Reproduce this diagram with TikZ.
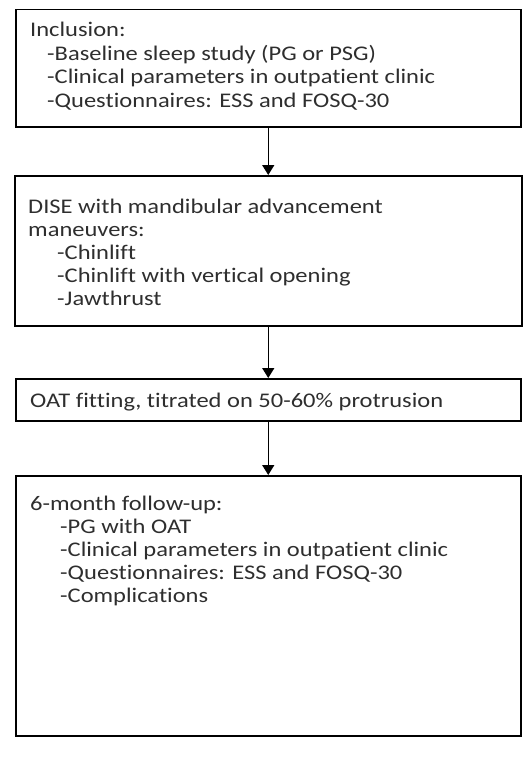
\documentclass[tikz,border=0pt]{standalone}
\usepackage{fontspec}
\usepackage{graphicx}
\setmainfont{Carlito}[Ligatures=NoCommon]
\usetikzlibrary{arrows.meta}
\newcommand\sqz[1]{\scalebox{1}[0.85]{#1}}
\begin{document}
\begin{tikzpicture}[x=1pt,y=-1pt,
  box/.style={draw=black, line width=1.5pt, inner sep=0pt, anchor=north west},
  txt/.style={anchor=base west, inner sep=0pt, font=\fontsize{24.5}{25}\selectfont, text=black!82},
  conn/.style={line width=1.5pt, -{Triangle[width=12pt,length=10pt]}}]
\useasboundingbox (0,0) rectangle (525,760);
\node[box, minimum width=505pt, minimum height=117pt] (b1) at (15,9) {};
\node[box, minimum width=507pt, minimum height=150pt] (b2) at (14,175) {};
\node[box, minimum width=505pt, minimum height=42pt] (b3) at (15,378) {};
\node[box, minimum width=505pt, minimum height=260pt] (b4) at (15,475) {};
\draw[conn] (b1.south) -- (b1.south |- b2.north);
\draw[conn] (b2.south) -- (b2.south |- b3.north);
\draw[conn] (b3.south) -- (b3.south |- b4.north);
% box 1
\node[txt] (t1a) at (30,37) {\sqz{Inclusion:}};
\node[txt] (t1b) at (47,60.5) {\sqz{-Baseline sleep study (PG or PSG)}};
\node[txt] (t1c) at (47,84) {\sqz{-Clinical parameters in outpatient clinic}};
\node[txt] (t1d) at (47,107.5) {\sqz{-Questionnaires: ESS and FOSQ-30}};
% box 2
\node[txt] (t2a) at (28,213) {\sqz{DISE with mandibular advancement}};
\node[txt] (t2b) at (28,236) {\sqz{maneuvers:}};
\node[txt] (t2c) at (57,259) {\sqz{-Chinlift}};
\node[txt] (t2d) at (57,282) {\sqz{-Chinlift with vertical opening}};
\node[txt] (t2e) at (57,305) {\sqz{-Jawthrust}};
% box 3
\node[txt] (t3a) at (30,407) {\sqz{OAT fitting, titrated on 50-60\% protrusion}};
% box 4
\node[txt] (t4a) at (30,510) {\sqz{6-month follow-up:}};
\node[txt] (t4b) at (60,533) {\sqz{-PG with OAT}};
\node[txt] (t4c) at (60,556) {\sqz{-Clinical parameters in outpatient clinic}};
\node[txt] (t4d) at (60,579) {\sqz{-Questionnaires: ESS and FOSQ-30}};
\node[txt] (t4e) at (60,602) {\sqz{-Complications}};
\end{tikzpicture}
\end{document}
